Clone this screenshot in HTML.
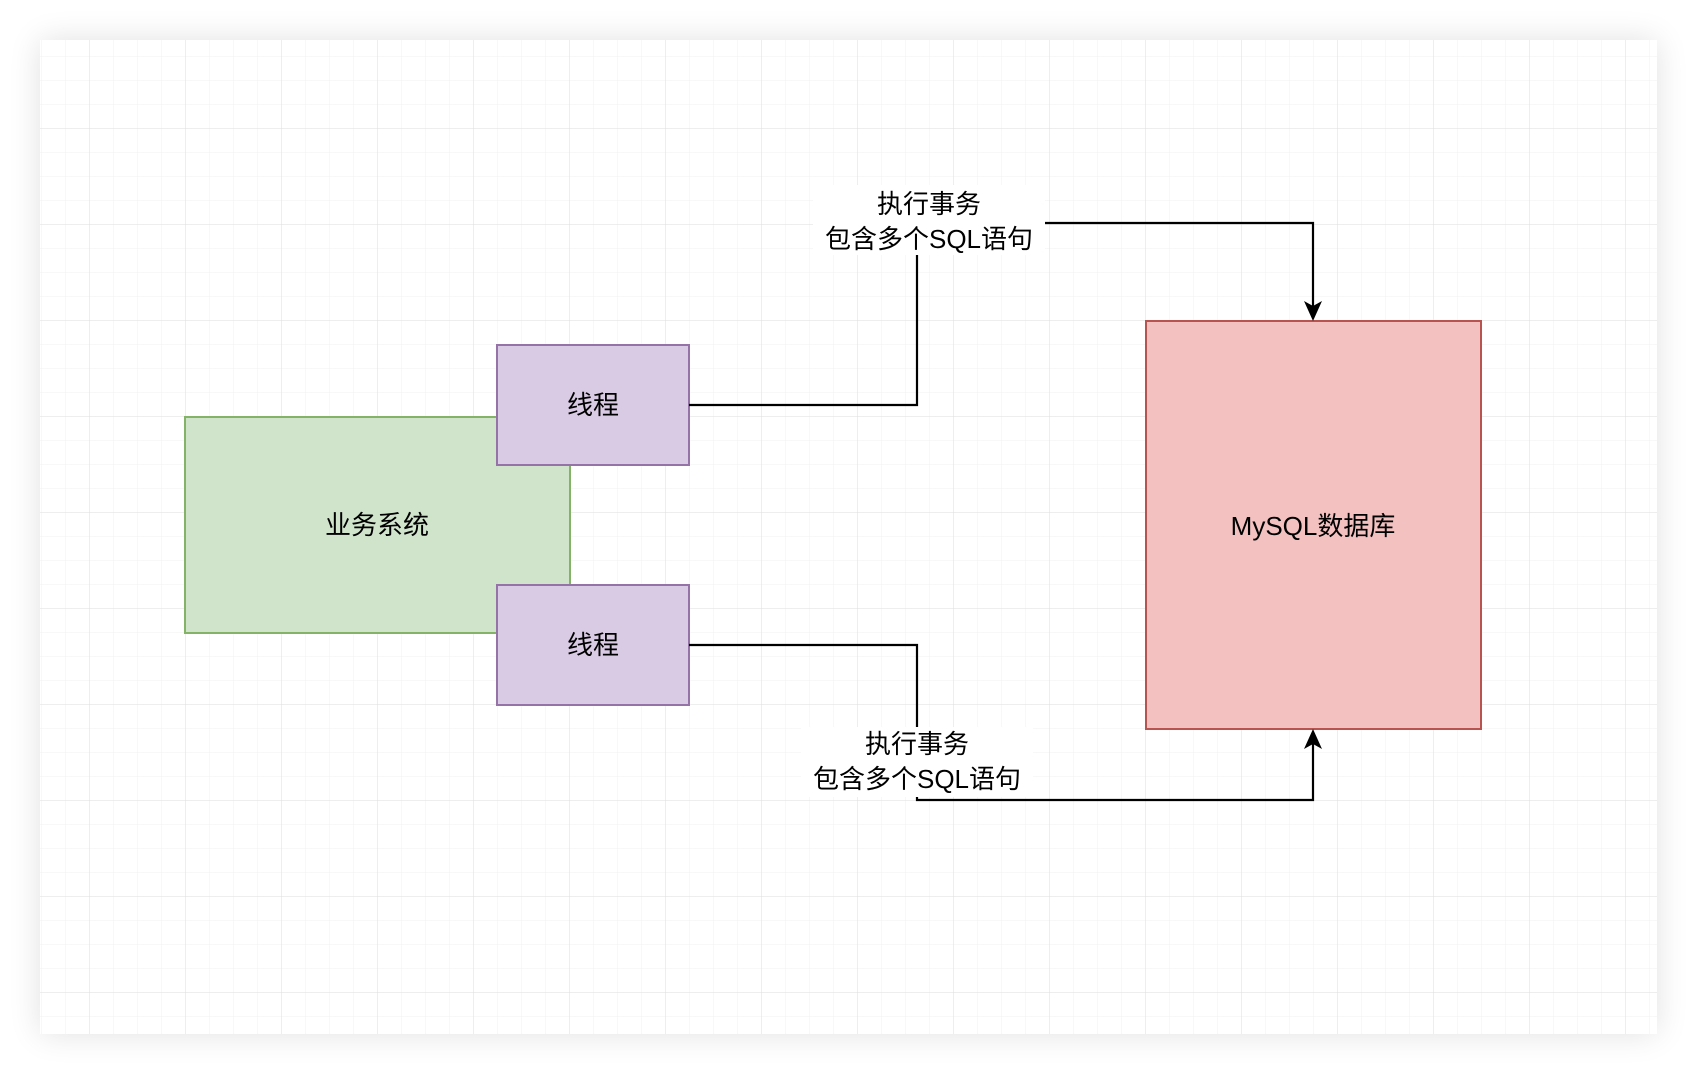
<!DOCTYPE html>
<html><head><meta charset="utf-8"><style>
html,body{margin:0;padding:0;background:#fff;}
body{width:1698px;height:1074px;overflow:hidden;position:relative;}
.canvas{position:absolute;left:40px;top:40px;width:1617px;height:994px;box-shadow:0 0 30px rgba(0,0,0,0.12);background:#fff;}
svg{position:absolute;left:0;top:0;}
text{font-family:"Liberation Sans","Noto Sans CJK SC",sans-serif;font-size:26px;fill:#000;}
</style></head><body>
<div class="canvas"></div>
<svg width="1698" height="1074" viewBox="0 0 1698 1074">
<defs>
<pattern id="minor" x="17" y="8" width="24" height="24" patternUnits="userSpaceOnUse">
<path d="M0 0H24M0 0V24" stroke="#f0f0f0" stroke-width="1" fill="none"/>
</pattern>
<pattern id="major" x="89" y="32" width="96" height="96" patternUnits="userSpaceOnUse">
<path d="M0 0H96M0 0V96" stroke="#dedede" stroke-width="1" fill="none"/>
</pattern>
</defs>
<rect x="40" y="40" width="1617" height="994" fill="url(#minor)"/>
<rect x="40" y="40" width="1617" height="994" fill="url(#major)"/>

<rect x="185" y="417" width="385" height="216" fill="#d0e4cc" stroke="#82b366" stroke-width="2"/>
<text x="377" y="534" text-anchor="middle">业务系统</text>

<rect x="497" y="345" width="192" height="120" fill="#dacbe4" stroke="#9673a6" stroke-width="2"/>
<text x="593" y="414" text-anchor="middle">线程</text>
<rect x="497" y="585" width="192" height="120" fill="#dacbe4" stroke="#9673a6" stroke-width="2"/>
<text x="593" y="654" text-anchor="middle">线程</text>

<rect x="1146" y="321" width="335" height="408" fill="#f2c1c0" stroke="#b85450" stroke-width="2"/>
<text x="1313" y="535" text-anchor="middle">MySQL数据库</text>

<path d="M689 405H917V223H1313V312" stroke="#000" stroke-width="2.2" fill="none"/>
<path d="M1313 321L1304 301L1313 306L1322 301Z" fill="#000"/>
<path d="M689 645H917V800H1313V738" stroke="#000" stroke-width="2.2" fill="none"/>
<path d="M1313 729L1304 749L1313 744L1322 749Z" fill="#000"/>

<rect x="813" y="185" width="232" height="70" fill="#fff"/>
<text x="929" y="213" text-anchor="middle">执行事务</text>
<text x="929" y="248" text-anchor="middle">包含多个SQL语句</text>

<rect x="801" y="727" width="232" height="70" fill="#fff"/>
<text x="917" y="753" text-anchor="middle">执行事务</text>
<text x="917" y="788" text-anchor="middle">包含多个SQL语句</text>
</svg>
</body></html>
